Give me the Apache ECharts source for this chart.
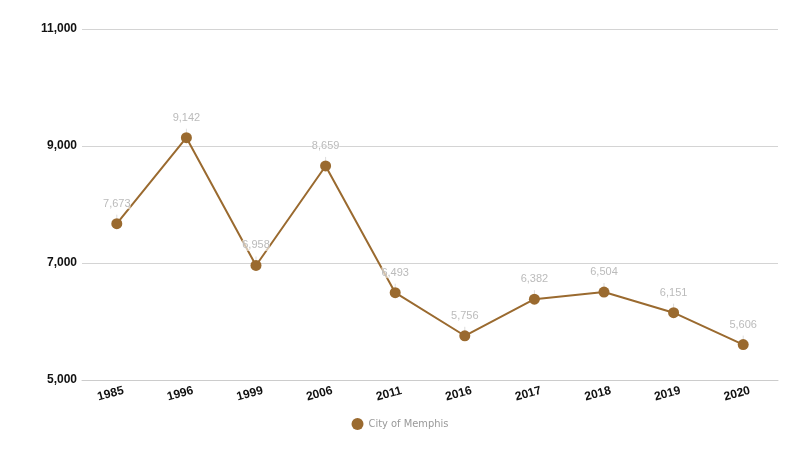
<!DOCTYPE html>
<html><head><meta charset="utf-8">
<script src="https://cdn.jsdelivr.net/npm/echarts@6/dist/echarts.min.js"></script>
<style>html,body{margin:0;padding:0;background:#fff}#c{width:800px;height:453px}</style>
</head><body><div id="c"></div>
<script>
const categories = ['1985','1996','1999','2006','2011','2016','2017','2018','2019','2020'];
const memphis = [7673, 9142, 6958, 8659, 6493, 5756, 6382, 6504, 6151, 5606];
const seriesName = 'City of Memphis';
const yMin = 5000, yMax = 11000, yStep = 2000;

const chart = echarts.init(document.getElementById('c'));
chart.setOption({
  animation: false,
  backgroundColor: '#fff',
  grid: {left: 82, right: 22, top: 29, bottom: 73},
  legend: {
    bottom: 18, left: 'center', icon: 'circle', itemWidth: 12, itemHeight: 12, itemGap: 8,
    textStyle: {color: '#999', fontFamily: 'DejaVu Sans Condensed', fontSize: 11},
    data: [seriesName]
  },
  xAxis: {
    type: 'category', data: categories, boundaryGap: true,
    axisLine: {show: true, lineStyle: {color: '#ccc'}},
    axisTick: {show: false},
    axisLabel: {rotate: 15, align: 'center', verticalAlign: 'top', margin: 6, padding: [0, 16, 0, 0],
      color: '#111', fontWeight: 'bold', fontFamily: 'Liberation Sans', fontSize: 12}
  },
  yAxis: {
    type: 'value', min: yMin, max: yMax, interval: yStep,
    axisLine: {show: false}, axisTick: {show: false},
    splitLine: {lineStyle: {color: '#d4d4d4'}},
    axisLabel: {margin: 5, color: '#111', fontWeight: 'bold', fontFamily: 'Liberation Sans', fontSize: 12,
      formatter: v => v.toLocaleString('en-US')}
  },
  series: [{
    name: seriesName, type: 'line', data: memphis,
    symbol: 'circle', symbolSize: 11,
    itemStyle: {color: '#9a6a2f'},
    lineStyle: {color: '#9a6a2f', width: 2},
    label: {show: true, position: 'top', distance: 9, color: '#bbb', fontFamily: 'Liberation Sans', fontSize: 11,
      backgroundColor: 'rgba(255,255,255,0.6)',
      formatter: p => p.value.toLocaleString('en-US')},
    labelLine: {show: true, lineStyle: {color: '#ddd', width: 1}}
  }]
});
</script></body></html>
